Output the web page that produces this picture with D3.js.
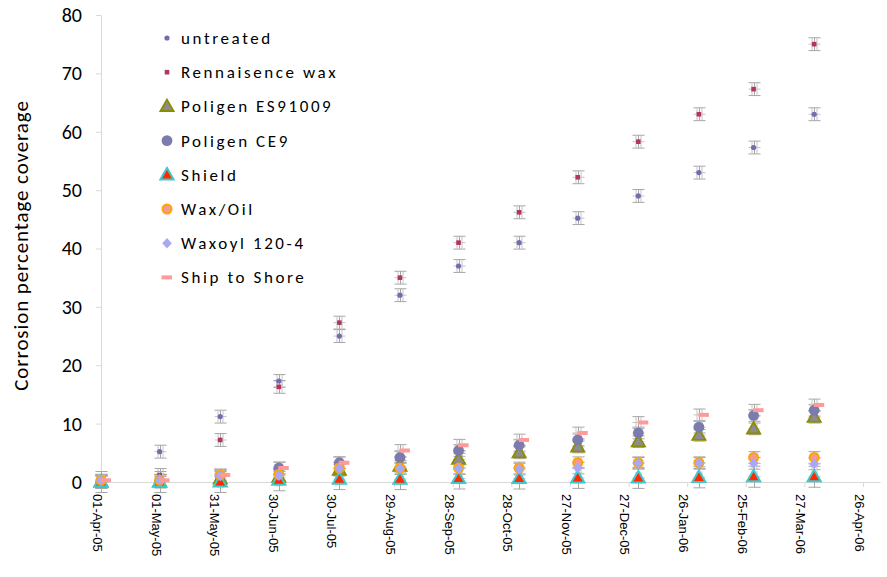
<!DOCTYPE html>
<html>
<head>
<meta charset="utf-8">
<script src="https://cdn.jsdelivr.net/npm/d3@7"></script>
<style>
  html, body { margin: 0; padding: 0; background: #fff; }
  svg { display: block; }
</style>
</head>
<body>
<svg id="chart" width="887" height="577"></svg>
<script>
// Inspection dates (first of each month) and axis tick dates (every 30 days)
const sampleDates = ["2005-04-01","2005-05-01","2005-06-01","2005-07-01","2005-08-01","2005-09-01",
  "2005-10-01","2005-11-01","2005-12-01","2006-01-01","2006-02-01","2006-03-01","2006-04-01"];
const tickDates = ["2005-04-01","2005-05-01","2005-05-31","2005-06-30","2005-07-30","2005-08-29",
  "2005-09-28","2005-10-28","2005-11-27","2005-12-27","2006-01-26","2006-02-25","2006-03-27","2006-04-26"];
const tickLabels = ["01-Apr-05","01-May-05","31-May-05","30-Jun-05","30-Jul-05","29-Aug-05",
  "28-Sep-05","28-Oct-05","27-Nov-05","27-Dec-05","26-Jan-06","25-Feb-06","27-Mar-06","26-Apr-06"];
const yTicks = [0, 10, 20, 30, 40, 50, 60, 70, 80];

// Corrosion percentage coverage per treatment
const untreated   = [0, 5.2, 11.2, 17.3, 25, 32, 37, 41, 45.2, 49, 53, 57.3, 63];
const rennaisence = [0, 1.2, 7.2, 16.3, 27.3, 35, 41, 46.2, 52.2, 58.3, 63, 67.3, 75];
const poligenES   = [0, 0, 0.5, 0.8, 2, 2.7, 3.9, 5, 6, 6.9, 8, 9.1, 11.1];
const poligenCE9  = [0, 0, 1, 2.4, 3.3, 4.2, 5.4, 6.3, 7.2, 8.4, 9.4, 11.4, 12.3];
const shield      = [0, 0, 0, 0.3, 0.5, 0.5, 0.6, 0.6, 0.7, 0.7, 0.8, 0.9, 0.9];
const waxOil      = [0.3, 0.3, 1.2, 1.3, 2.4, 2.4, 2.4, 2.4, 3.3, 3.3, 3.3, 4.2, 4.2];
const waxoyl      = [0.3, 0.3, 1.1, 1.1, 2.3, 2.3, 2.3, 2.2, 2.4, 3.2, 3.2, 3.2, 3.1];
const shipToShore = [0.3, 0.3, 1.2, 2.4, 3.3, 5.4, 6.3, 7.2, 8.4, 10.2, 11.5, 12.3, 13.2];

// Error bar half-width for each series (percentage points)
const seriesErrors = [1.1, 1.1, 1.0, 1.0, 1.8, 1.0, 1.0, 1.0];

const seriesNames = ["untreated","Rennaisence wax","Poligen ES91009","Poligen CE9","Shield",
  "Wax/Oil","Waxoyl 120-4","Ship to Shore"];
const seriesValues = [untreated, rennaisence, poligenES, poligenCE9, shield, waxOil, waxoyl, shipToShore];

const parse = d3.utcParse("%Y-%m-%d");
const svg = d3.select("#chart");

const x = d3.scaleUtc()
  .domain([parse("2005-04-01"), parse("2006-05-05")])
  .range([101, 880.6]);
const y = d3.scaleLinear().domain([0, 80]).range([482, 15]);

const axisGrey = "#d9d9d9";
const labelFont = "Carlito, Lato, 'Open Sans', sans-serif";

// Y axis
const yAxis = svg.append("g")
  .attr("transform", `translate(${x.range()[0]},0)`)
  .call(d3.axisLeft(y).tickValues(yTicks).tickSize(5).tickPadding(14));
yAxis.select(".domain").attr("stroke", axisGrey);
yAxis.selectAll(".tick line").attr("stroke", axisGrey);
yAxis.selectAll(".tick text")
  .attr("fill", "#000")
  .style("font-family", labelFont)
  .style("font-size", "20px");

// X axis
const xAxis = svg.append("g")
  .attr("transform", `translate(0,${y(0)})`)
  .call(d3.axisBottom(x).tickValues(tickDates.map(parse)).tickSize(5)
    .tickFormat((d, i) => tickLabels[i]));
xAxis.select(".domain").attr("stroke", axisGrey).attr("d", `M${x.range()[0]},0.5H${x.range()[1]}`);
xAxis.selectAll(".tick line").attr("stroke", axisGrey);
xAxis.selectAll(".tick text")
  .attr("fill", "#000")
  .attr("text-anchor", "start")
  .attr("dy", "0.35em")
  .attr("x", 0).attr("y", 0)
  .attr("transform", "translate(-4,12) rotate(90)")
  .style("font-family", "'Liberation Sans', Arial, sans-serif")
  .style("font-size", "13px");

// Y axis title
svg.append("text")
  .attr("transform", `translate(28,${(y(0) + y(80)) / 2 - 3}) rotate(-90)`)
  .attr("text-anchor", "middle")
  .style("font-family", labelFont)
  .style("font-size", "21px")
  .style("letter-spacing", "0.9px")
  .text("Corrosion percentage coverage");

// Marker drawing helpers
const tri = (s) => `M0,${-s * 0.62}L${s * 0.6},${s * 0.42}L${-s * 0.6},${s * 0.42}Z`;
const markers = [
  g => g.append("circle").attr("r", 2.6).attr("fill", "#6e6eb0"),
  g => g.append("rect").attr("x", -2.3).attr("y", -2.3).attr("width", 4.6).attr("height", 4.6).attr("fill", "#b03565"),
  g => g.append("path").attr("d", tri(11)).attr("fill", "#8c8c8c").attr("stroke", "#8c8c00").attr("stroke-width", 1.8),
  g => g.append("circle").attr("r", 5.4).attr("fill", "#7b7bae"),
  g => g.append("path").attr("d", tri(11)).attr("fill", "#ff2a00").attr("stroke", "#40c8cc").attr("stroke-width", 2),
  g => g.append("circle").attr("r", 4.5).attr("fill", "#f49a92").attr("stroke", "#ffa500").attr("stroke-width", 2),
  g => g.append("path").attr("d", "M0,-5.3L4.8,0L0,5.3L-4.8,0Z").attr("fill", "#a8a8f4"),
  g => g.append("rect").attr("x", -0.5).attr("y", -2).attr("width", 10.5).attr("height", 4).attr("fill", "#ff9a9a")
];

// Error bars (vertical with caps, plus short horizontal bars with tall caps)
const errG = svg.append("g").attr("stroke", "#a6a6a6").attr("stroke-width", 1).attr("fill", "none");
seriesValues.forEach((vals, si) => {
  const e = seriesErrors[si];
  vals.forEach((v, i) => {
    const cx = Math.round(x(parse(sampleDates[i]))) + 0.5;
    const cy = y(v);
    const top = y(v + e), bot = y(v - e);
    errG.append("path").attr("d",
      `M${cx},${top}V${bot}M${cx - 6},${top}H${cx + 6}M${cx - 6},${bot}H${cx + 6}`);
    errG.append("path").attr("stroke", "#c4c4c4").attr("d",
      `M${cx - 2.5},${cy - 6}V${cy + 6}M${cx + 2.5},${cy - 6}V${cy + 6}M${cx - 6},${cy}H${cx + 6}`);
  });
});

// Data markers, series in legend order
seriesValues.forEach((vals, si) => {
  const sg = svg.append("g").attr("class", "series");
  vals.forEach((v, i) => {
    const g = sg.append("g")
      .attr("transform", `translate(${x(parse(sampleDates[i]))},${y(v)})`);
    markers[si](g);
  });
});

// Legend
const legend = svg.append("g").attr("transform", "translate(167,38)");
seriesNames.forEach((name, i) => {
  const row = legend.append("g").attr("transform", `translate(0,${i * 34.2})`);
  const m = row.append("g");
  markers[i](m);
  if (i === 7) m.attr("transform", "translate(-5,0)");
  row.append("text")
    .attr("x", 14).attr("dy", "0.35em")
    .style("font-family", labelFont)
    .style("font-size", "17px")
    .style("letter-spacing", "2.6px")
    .text(name);
});
</script>
</body>
</html>
